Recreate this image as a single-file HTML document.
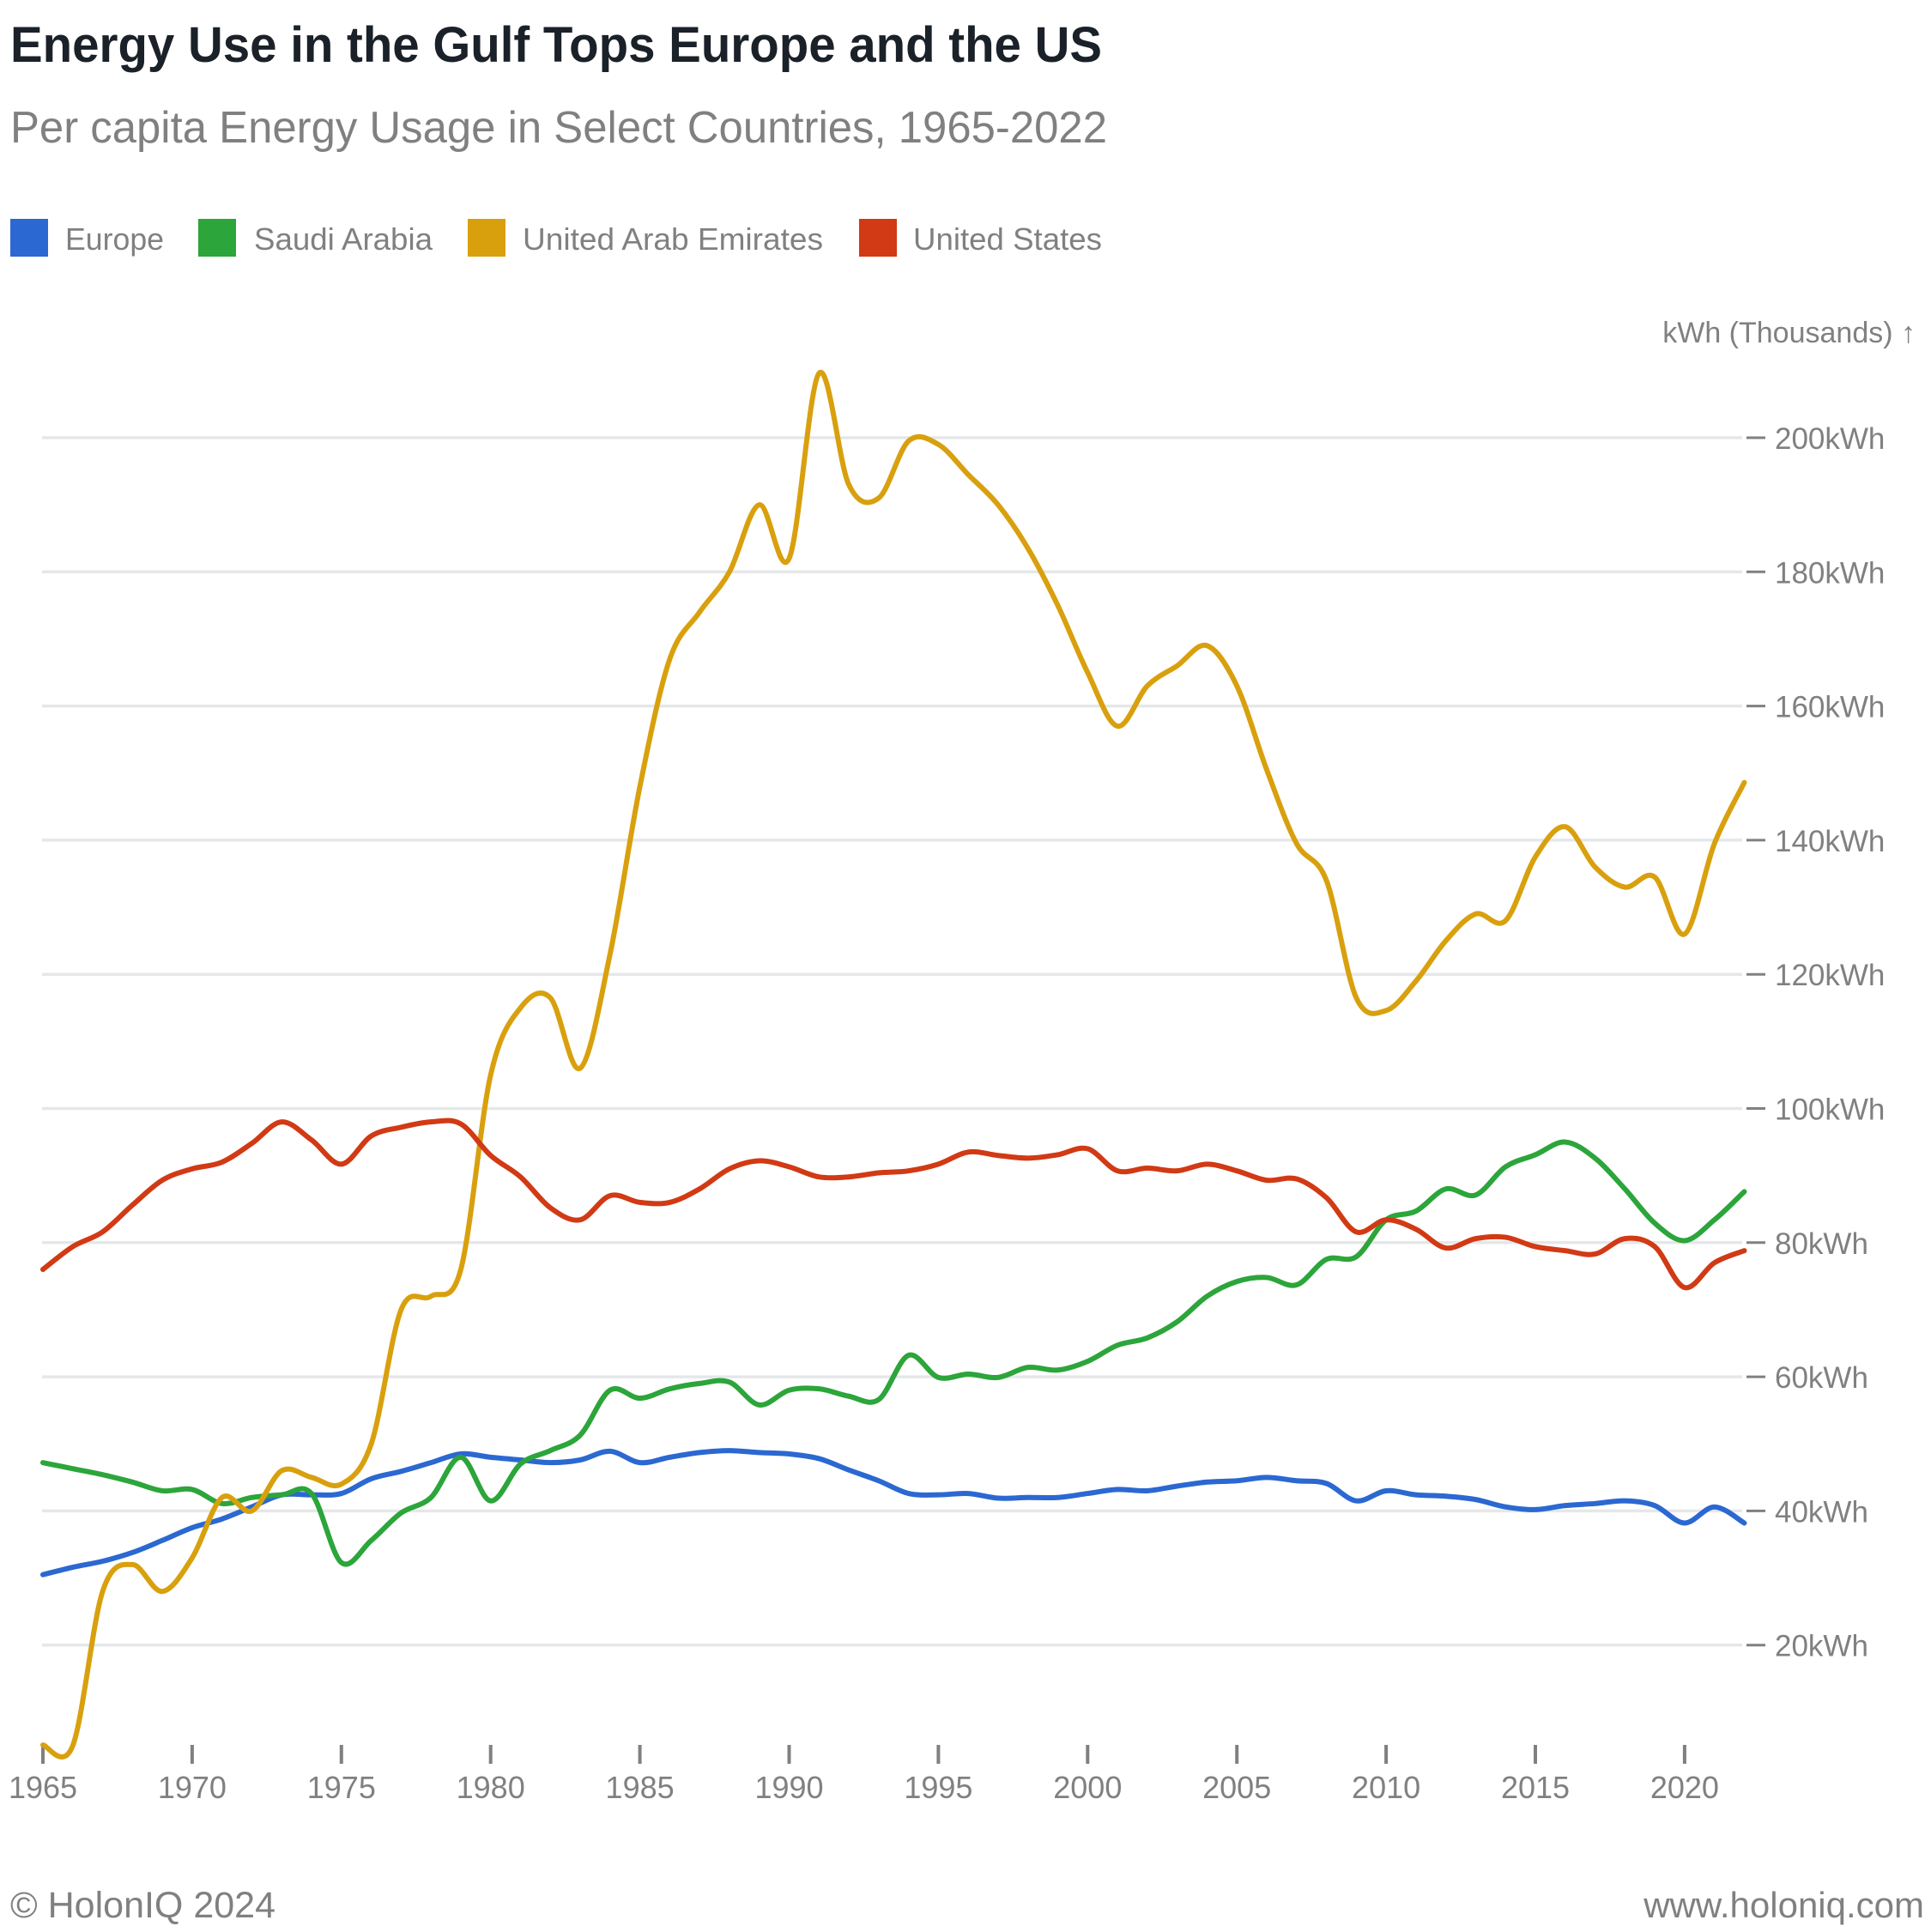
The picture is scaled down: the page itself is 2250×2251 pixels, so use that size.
<!DOCTYPE html>
<html><head><meta charset="utf-8"><style>
html,body{margin:0;padding:0;background:#fff;}
svg{display:block;font-family:"Liberation Sans",sans-serif;}
</style></head><body>
<svg id="chart" width="2250" height="2251" viewBox="0 0 2250 2251" xmlns="http://www.w3.org/2000/svg">
<text x="12" y="72" font-size="58" font-weight="bold" fill="#1b2128" textLength="1272" lengthAdjust="spacingAndGlyphs">Energy Use in the Gulf Tops Europe and the US</text>
<text x="12" y="166" font-size="52" fill="#808080" textLength="1278" lengthAdjust="spacingAndGlyphs">Per capita Energy Usage in Select Countries, 1965-2022</text>
<g>
<rect x="12" y="255" width="44" height="44" fill="#2b68d1"/>
<text x="76" y="291" font-size="36" fill="#808080" textLength="115" lengthAdjust="spacingAndGlyphs">Europe</text>
<rect x="231" y="255" width="44" height="44" fill="#2ca53a"/>
<text x="296" y="291" font-size="36" fill="#808080" textLength="208" lengthAdjust="spacingAndGlyphs">Saudi Arabia</text>
<rect x="545" y="255" width="44" height="44" fill="#d9a00e"/>
<text x="609" y="291" font-size="36" fill="#808080" textLength="350" lengthAdjust="spacingAndGlyphs">United Arab Emirates</text>
<rect x="1001" y="255" width="44" height="44" fill="#d13a14"/>
<text x="1064" y="291" font-size="36" fill="#808080" textLength="220" lengthAdjust="spacingAndGlyphs">United States</text>
</g>
<text x="2232" y="399" font-size="34" fill="#808080" text-anchor="end">kWh (Thousands) ↑</text>
<g id="grid"></g>
<g id="xaxis"></g>
<g id="lines"></g>
<text x="12" y="2234" font-size="43" fill="#808080">© HolonIQ 2024</text>
<text x="2242" y="2234" font-size="42" fill="#808080" text-anchor="end">www.holoniq.com</text>
</svg>
<script>
const years = [];
for (let y = 1965; y <= 2022; y++) years.push(y);
const yTicks = [20,40,60,80,100,120,140,160,180,200];
const xTicks = [1965,1970,1975,1980,1985,1990,1995,2000,2005,2010,2015,2020];
const europe = [30.5,31.6,32.5,33.8,35.6,37.5,38.8,40.6,42.4,42.4,42.6,44.8,45.9,47.2,48.5,48,47.6,47.2,47.6,48.9,47.2,48,48.7,49,48.7,48.5,47.8,46.1,44.5,42.6,42.4,42.6,41.9,42,42,42.6,43.2,43,43.7,44.3,44.5,45,44.5,44.1,41.5,43,42.4,42.2,41.7,40.6,40.2,40.8,41.1,41.5,40.8,38.2,40.6,38.2];
const saudi = [47.2,46.3,45.4,44.3,43,43.2,41.1,42,42.4,42.6,32.3,35.6,39.7,42,48,41.5,47,49,51.3,58,56.8,58.2,59,59.2,55.8,58,58.2,57.1,56.6,63.2,59.9,60.4,59.9,61.4,61,62.3,64.7,65.8,68.2,72,74.2,74.8,73.7,77.5,77.9,83.4,84.7,88,87.1,91.3,93.1,95,92.6,88,82.9,80.3,83.4,87.6];
const uae = [5.1,5,28,32,28,33,42,40,46,45,44,50,70,72,76,105,115,116.5,106,123,148,167,174,180,190,182,209.6,193,191,199.5,199,194.5,190,183.5,175,165,157,163,166,169,163,150.5,139.5,134,116.5,114.6,119,125,129,128,137.5,142,136,133,134.5,126,139.5,148.6];
const us = [76,79.4,81.6,85.6,89.3,91,92,94.8,98,95.3,91.7,95.9,97.2,98,97.7,93,89.8,85.2,83.4,87,86,86,88,91,92.2,91.3,89.8,89.8,90.4,90.7,91.7,93.5,93,92.6,93.1,94,90.7,91.1,90.7,91.7,90.7,89.3,89.5,86.7,81.6,83.4,82,79.2,80.6,80.8,79.4,78.8,78.3,80.6,79.4,73.3,77,78.8];

const NS = 'http://www.w3.org/2000/svg';
function xs(yr){ return 50 + (yr - 1965) * 34.78; }
function ys(v){ return 510 + (200 - v) * 7.815; }

const grid = document.getElementById('grid');
yTicks.forEach(t => {
  const l = document.createElementNS(NS,'line');
  l.setAttribute('x1',49); l.setAttribute('x2',2030);
  l.setAttribute('y1',ys(t)); l.setAttribute('y2',ys(t));
  l.setAttribute('stroke','#e6e7e9'); l.setAttribute('stroke-width',3.5);
  
  
  grid.appendChild(l);
  const d = document.createElementNS(NS,'line');
  d.setAttribute('x1',2035); d.setAttribute('x2',2057);
  d.setAttribute('y1',ys(t)); d.setAttribute('y2',ys(t));
  d.setAttribute('stroke','#808080'); d.setAttribute('stroke-width',3);
  
  
  grid.appendChild(d);
  const tx = document.createElementNS(NS,'text');
  tx.setAttribute('x',2068); tx.setAttribute('y',ys(t)+13);
  tx.setAttribute('font-size',35); tx.setAttribute('fill','#808080');
  tx.textContent = t + 'kWh';
  
  
  grid.appendChild(tx);
});
const xa = document.getElementById('xaxis');
xTicks.forEach(t => {
  const l = document.createElementNS(NS,'line');
  l.setAttribute('x1',xs(t)); l.setAttribute('x2',xs(t));
  l.setAttribute('y1',2033); l.setAttribute('y2',2055);
  l.setAttribute('stroke','#808080'); l.setAttribute('stroke-width',4);
  
  
  xa.appendChild(l);
  const tx = document.createElementNS(NS,'text');
  tx.setAttribute('x',xs(t)); tx.setAttribute('y',2095);
  tx.setAttribute('font-size',36); tx.setAttribute('fill','#808080');
  tx.setAttribute('text-anchor','middle');
  tx.textContent = t;
  
  
  xa.appendChild(tx);
});
function path(vals){
  const p = vals.map((v,i)=>[xs(years[i]), ys(v)]);
  let d = 'M' + p[0][0] + ',' + p[0][1];
  for (let i=0;i<p.length-1;i++){
    const p0 = p[Math.max(0,i-1)], p1 = p[i], p2 = p[i+1], p3 = p[Math.min(p.length-1,i+2)];
    const c1x = p1[0] + (p2[0]-p0[0])/6, c1y = p1[1] + (p2[1]-p0[1])/6;
    const c2x = p2[0] - (p3[0]-p1[0])/6, c2y = p2[1] - (p3[1]-p1[1])/6;
    d += ' C' + c1x + ',' + c1y + ' ' + c2x + ',' + c2y + ' ' + p2[0] + ',' + p2[1];
  }
  return d;
}
const lines = document.getElementById('lines');
[[europe,'#2b68d1','line-europe'],[saudi,'#2ca53a','line-saudi-arabia'],[uae,'#d9a00e','line-uae'],[us,'#d13a14','line-united-states']].forEach(s => {
  const el = document.createElementNS(NS,'path');
  el.setAttribute('d', path(s[0]));
  el.setAttribute('fill','none'); el.setAttribute('stroke',s[1]);
  el.setAttribute('stroke-width',6); el.setAttribute('stroke-linejoin','round'); el.setAttribute('stroke-linecap','round');
  
  
  lines.appendChild(el);
});
</script>
</body></html>
